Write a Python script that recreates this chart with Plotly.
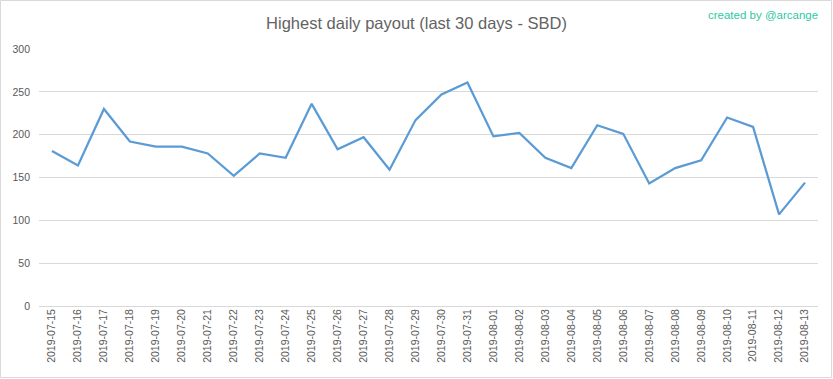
import plotly.graph_objects as go

dates = ["2019-07-15", "2019-07-16", "2019-07-17", "2019-07-18", "2019-07-19",
         "2019-07-20", "2019-07-21", "2019-07-22", "2019-07-23", "2019-07-24",
         "2019-07-25", "2019-07-26", "2019-07-27", "2019-07-28", "2019-07-29",
         "2019-07-30", "2019-07-31", "2019-08-01", "2019-08-02", "2019-08-03",
         "2019-08-04", "2019-08-05", "2019-08-06", "2019-08-07", "2019-08-08",
         "2019-08-09", "2019-08-10", "2019-08-11", "2019-08-12", "2019-08-13"]
payout = [181, 164, 230, 192, 186,
          186, 178, 152, 178, 173,
          236, 183, 197, 159, 217,
          247, 261, 198, 202, 173,
          161, 211, 201, 143, 161,
          170, 220, 209, 107, 144]
y_ticks = [0, 50, 100, 150, 200, 250, 300]

W, H = 833, 379
ml, mr, mt, mb = 39, 15, 49, 73
pw, ph = W - ml - mr, H - mt - mb

fig = go.Figure()
fig.add_trace(go.Scatter(
    x=dates, y=payout, mode="lines",
    line=dict(color="#5b9bd5", width=2.25),
    hoverinfo="x+y",
))

font_family = "Liberation Sans, Arial, sans-serif"
fig.update_layout(
    width=W, height=H,
    margin=dict(l=ml, r=mr, t=mt, b=mb),
    paper_bgcolor="white", plot_bgcolor="white",
    showlegend=False,
    title=dict(text="Highest daily payout (last 30 days - SBD)",
               x=0.5, xanchor="center", y=1 - 23 / H, yanchor="middle",
               font=dict(family=font_family, size=16.5, color="#636363")),
    xaxis=dict(type="category", tickangle=-90, showgrid=False,
               ticks="", showline=False, zeroline=False,
               tickfont=dict(family=font_family, size=10.5, color="#595959"),
               range=[-0.5, len(dates) - 0.5]),
    yaxis=dict(range=[0, 300], tickvals=y_ticks, showgrid=True,
               gridcolor="#d9d9d9", gridwidth=1, zeroline=True,
               zerolinecolor="#d9d9d9", zerolinewidth=1, showline=False,
               ticks="", ticklabelstandoff=8,
               tickfont=dict(family=font_family, size=10.5, color="#595959")),
    annotations=[dict(text="created by @arcange", xref="paper", yref="paper",
                      x=(820 - ml) / pw, y=1 + (mt - 15) / ph,
                      xanchor="right", yanchor="middle", showarrow=False,
                      font=dict(family=font_family, size=11.5, color="#2ec9a4"))],
    shapes=[dict(type="rect", xref="paper", yref="paper",
                 x0=(-ml + 0.5) / pw, x1=1 + (mr - 1.5) / pw,
                 y0=-(mb - 1.5) / ph, y1=1 + (mt - 0.5) / ph,
                 line=dict(color="#d9d9d9", width=1), layer="below")],
)

fig.write_html("out.html", config={"displayModeBar": False},
               post_script="document.body.style.margin='0';document.body.style.overflow='hidden';")
